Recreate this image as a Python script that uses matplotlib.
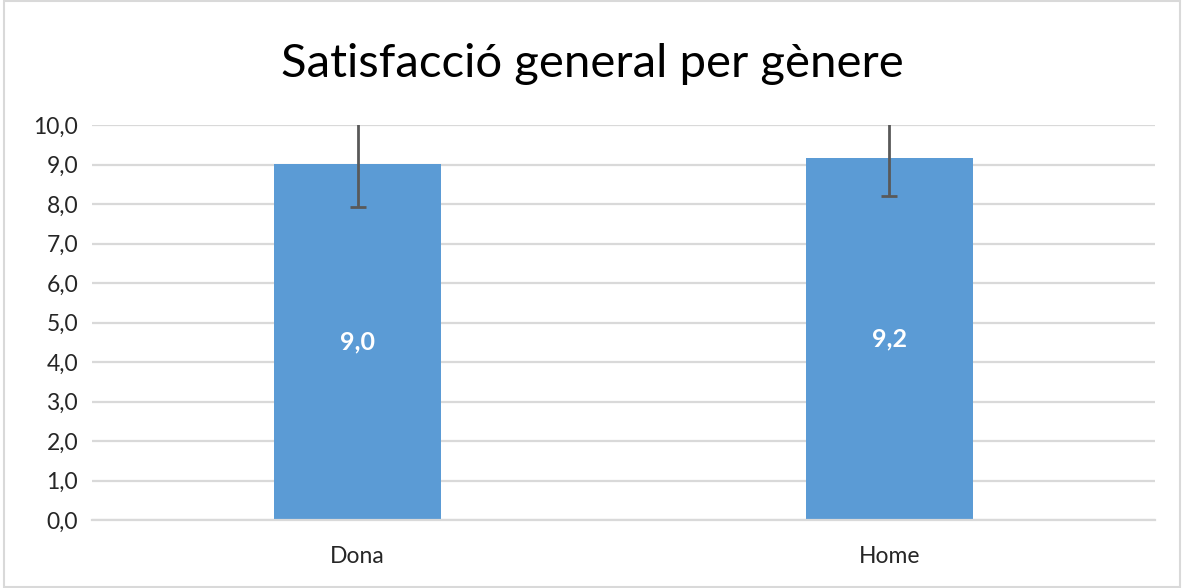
import matplotlib.pyplot as plt
from matplotlib.patches import Rectangle

# Data
categories = ['Dona', 'Home']
values = [9.02, 9.16]
err_low = [1.1, 0.96]
err_high = [1.1, 0.96]
labels = ['9,0', '9,2']
yticks = [0, 1, 2, 3, 4, 5, 6, 7, 8, 9, 10]
ytick_labels = ['0,0', '1,0', '2,0', '3,0', '4,0', '5,0', '6,0', '7,0', '8,0', '9,0', '10,0']

plt.rcParams['font.family'] = ['Lato', 'DejaVu Sans']

fig = plt.figure(figsize=(11.84, 5.88), dpi=100)
ax = fig.add_axes([0.0777, 0.1156, 0.8978, 0.6718])

x = list(range(len(categories)))
bars = ax.bar(x, values, width=0.314, color='#5B9BD5', zorder=2,
              yerr=[err_low, err_high], ecolor='#595959',
              error_kw=dict(elinewidth=2, capsize=6, capthick=2, zorder=3))

# Value labels inside bars
for xi, v, lab in zip(x, values, labels):
    ax.text(xi, v / 2, lab, ha='center', va='center', color='white',
            fontsize=18, fontweight='bold')

ax.set_xlim(-0.5, len(categories) - 0.5)
ax.set_ylim(0, 10)
ax.set_yticks(yticks)
ax.set_yticklabels(ytick_labels)
ax.set_xticks(x)
ax.set_xticklabels(categories)
ax.tick_params(axis='both', length=0, labelsize=16.5, colors='#262626')
ax.tick_params(axis='y', pad=10)
ax.tick_params(axis='x', pad=19)

ax.grid(axis='y', color='#D9D9D9', linewidth=1.6, zorder=0)
ax.set_axisbelow(True)
for side in ['top', 'right', 'left']:
    ax.spines[side].set_visible(False)
ax.spines['bottom'].set_color('#D9D9D9')
ax.spines['bottom'].set_linewidth(1.6)

fig.text(0.5, 0.892, 'Satisfacció general per gènere', ha='center', va='center',
         fontsize=34, color='black')

# Chart border
fig.patches.append(Rectangle((0.003, 0.002), 0.994, 0.996, transform=fig.transFigure,
                             fill=False, edgecolor='#D9D9D9', linewidth=1.5))

fig.savefig('out.png', dpi=100)
